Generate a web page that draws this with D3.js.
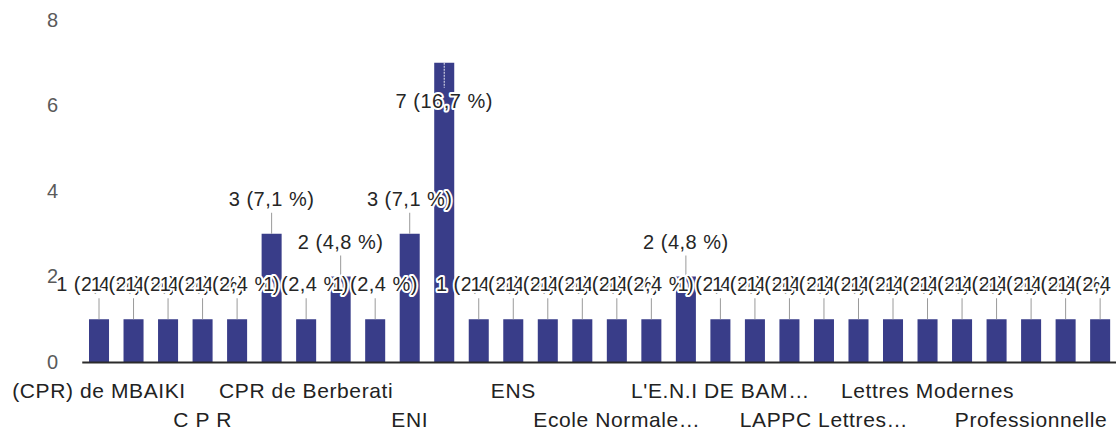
<!DOCTYPE html>
<html>
<head>
<meta charset="utf-8">
<script src="https://cdn.jsdelivr.net/npm/d3@7"></script>
<style>
  html, body { margin: 0; padding: 0; background: #fff; }
  svg { display: block; font-family: "Liberation Sans", Arial, sans-serif; }
</style>
</head>
<body>
<figure id="bar" style="margin:0"></figure>
<script>
// categories (only every 3rd name is printed on the axis, the rest are unknown)
const categories = [
  "(CPR) de MBAIKI", "", "",
  "C P R", "", "",
  "CPR de Berberati", "", "",
  "ENI", "", "",
  "ENS", "", "",
  "Ecole Normale…", "", "",
  "L'E.N.I DE BAM…", "", "",
  "LAPPC Lettres…", "", "",
  "Lettres Modernes", "", "",
  "Professionnelle", "", ""
];
const counts = [1, 1, 1, 1, 1, 3, 1, 2, 1, 3, 7, 1, 1, 1, 1, 1, 1, 2, 1, 1, 1, 1, 1, 1, 1, 1, 1, 1, 1, 1];
const yTicks = [0, 2, 4, 6, 8];

const size = { width: 1116, height: 436 };
const total = d3.sum(counts);
const pct = d => (d / total * 100).toFixed(1).replace(".", ",") + " %";

const svg = d3.select("figure#bar")
  .append("svg")
  .attr("width", size.width)
  .attr("height", size.height);

const idx = d3.range(categories.length);

const x = d3.scaleBand()
  .domain(idx)
  .range([81.75, 1117.4])
  .paddingInner(0.42)
  .paddingOuter(0.21);

const y = d3.scaleLinear()
  .domain([0, 8])
  .range([362, 20]);

// y axis, labels only
const yAxis = svg.append("g")
  .attr("transform", "translate(58,0)")
  .call(d3.axisLeft(y).tickValues(yTicks).tickSize(0).tickPadding(0));
yAxis.select(".domain").remove();
yAxis.selectAll("text")
  .attr("fill", "#5a5a5a")
  .style("font-size", "20px")
  .style("font-family", "Liberation Sans, Arial, sans-serif");

// bars
svg.append("g")
  .selectAll("rect")
  .data(counts)
  .join("rect")
  .attr("x", (d, i) => x(i))
  .attr("y", d => y(d))
  .attr("width", x.bandwidth())
  .attr("height", d => y(0) - y(d))
  .attr("fill", "#393d89");

// x axis, every 3rd label on two staggered rows
const xAxis = svg.append("g")
  .attr("transform", "translate(0," + y(0) + ")")
  .call(d3.axisBottom(x)
    .tickValues(idx.filter(i => i % 3 === 0))
    .tickFormat(i => categories[i])
    .tickSize(0)
    .tickSizeOuter(0));
xAxis.select(".domain")
  .attr("stroke", "#2b2b2b")
  .attr("stroke-width", 2);
xAxis.selectAll("text")
  .attr("fill", "#222")
  .attr("y", (i) => (i / 3) % 2 === 0 ? 36 : 65)
  .attr("dy", null)
  .style("font-size", "21px")
  .style("letter-spacing", "0.6px")
  .style("font-family", "Liberation Sans, Arial, sans-serif");

// annotations: stem + "n (p %)" with white halo
const inside = d => y(d) < 90; // tallest bar gets its label inside
const ann = svg.append("g");

ann.selectAll("line")
  .data(counts)
  .join("line")
  .attr("x1", (d, i) => x(i) + x.bandwidth() / 2)
  .attr("x2", (d, i) => x(i) + x.bandwidth() / 2)
  .attr("y1", d => y(d))
  .attr("y2", d => inside(d) ? y(d) + 25 : y(d) - 21)
  .attr("stroke", d => inside(d) ? "#e8e8f0" : "#9a9a9a")
  .attr("stroke-dasharray", d => inside(d) ? "2,1" : null)
  .attr("stroke-width", 1);

ann.selectAll("text")
  .data(counts)
  .join("text")
  .attr("x", (d, i) => x(i) + x.bandwidth() / 2)
  .attr("y", d => inside(d) ? y(d) + 45 : y(d) - 28)
  .attr("text-anchor", "middle")
  .attr("fill", "#262626")
  .attr("stroke", "#fff")
  .attr("stroke-width", 4)
  .attr("stroke-linejoin", "round")
  .attr("paint-order", "stroke")
  .style("font-size", "20px")
  .style("letter-spacing", "0.5px")
  .text(d => d + " (" + pct(d) + ")");
</script>
</body>
</html>
